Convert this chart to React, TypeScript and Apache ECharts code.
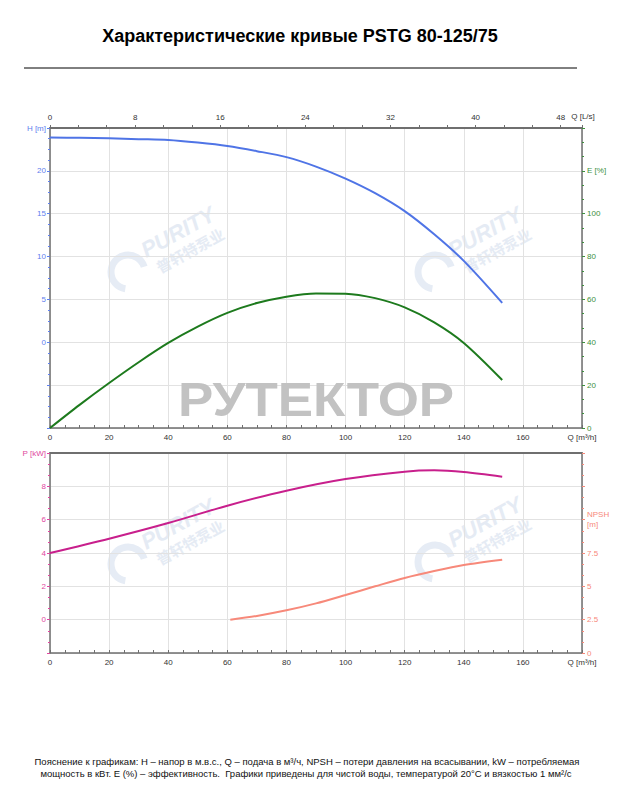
import React, { useEffect, useRef } from 'react';
import * as echarts from 'echarts';

// ---- Data ----
const qHead = [0, 10, 20, 30, 40, 50, 60, 70, 80, 90, 100, 110, 120, 130, 140, 153];
const head = [23.9, 23.85, 23.8, 23.7, 23.6, 23.3, 22.9, 22.3, 21.6, 20.5, 19.1, 17.4, 15.3, 12.6, 9.5, 4.6];

const qEff = [0, 10, 20, 30, 40, 50, 60, 70, 80, 90, 100, 110, 120, 130, 140, 153];
const eff = [0, 10.8, 21, 30.7, 39.7, 47.3, 53.7, 58.3, 61.3, 62.8, 62.7, 60.6, 56.3, 49.3, 39.7, 22.4];

const qPower = [0, 20, 40, 60, 80, 100, 120, 130, 140, 153];
const power = [4.0, 4.86, 5.8, 6.84, 7.74, 8.44, 8.88, 8.96, 8.86, 8.58];

const qNpsh = [61, 70, 80, 90, 100, 110, 120, 130, 140, 153];
const npsh = [2.5, 2.78, 3.2, 3.72, 4.35, 5.0, 5.63, 6.15, 6.6, 7.0];

const titleText = 'Характеристические кривые PSTG 80-125/75';
const footer1 = 'Пояснение к графикам: H – напор в м.в.с., Q – подача в м³/ч, NPSH – потери давления на всасывании, kW – потребляемая';
const footer2 = 'мощность в кВт. E (%) – эффективность.  Графики приведены для чистой воды, температурой 20°C и вязкостью 1 мм²/с';

const C_H = '#4f74e6';
const C_E = '#1d7a1d';
const C_E_LBL = '#3d8f3d';
const C_P = '#c81f8c';
const C_P_LBL = '#e0479e';
const C_N = '#f7897a';
const C_H_LBL = '#5f80ee';
const AXIS = '#6f6f6f';
const GRID = '#e2e2e2';
const FONT = "'Liberation Sans Narrow', 'Arial Narrow', 'Liberation Sans', sans-serif";

const pairs = (xs: number[], ys: number[]) => xs.map((x, i) => [x, ys[i]]);

function watermark(x: number, y: number) {
  return {
    type: 'group',
    x,
    y,
    z: 1,
    silent: true,
    children: [
      {
        type: 'arc',
        shape: { cx: 18, cy: 62, r: 17, startAngle: Math.PI * 0.55, endAngle: Math.PI * 1.9 },
        style: { stroke: '#e6ecf5', lineWidth: 7, fill: null },
      },
      {
        type: 'text',
        x: 68,
        y: 22,
        rotation: 0.5,
        style: {
          text: 'PURITY',
          font: "italic bold 22px 'Liberation Sans', sans-serif",
          fill: '#e5ebf4',
          align: 'center',
          verticalAlign: 'middle',
        },
      },
      {
        type: 'text',
        x: 80,
        y: 40,
        rotation: 0.5,
        style: {
          text: '普轩特泵业',
          font: "bold 15px 'Noto Sans CJK SC', sans-serif",
          fill: '#e5ebf4',
          align: 'center',
          verticalAlign: 'middle',
        },
      },
    ],
  };
}

const qFmt = (v: number) => (v === 180 ? 'Q [m³/h]' : String(v));

export default function App() {
  const ref = useRef<HTMLDivElement>(null);
  useEffect(() => {
    if (!ref.current) return;
    const chart = echarts.init(ref.current, undefined, { renderer: 'svg' });
    const labelBase = { fontSize: 8, fontFamily: FONT };
    const option: any = {
      animation: false,
      backgroundColor: '#ffffff',
      grid: [
        { left: 50, top: 128, width: 532, height: 300 },
        { left: 50, top: 453, width: 532, height: 200 },
      ],
      xAxis: [
        {
          gridIndex: 0, type: 'value', position: 'bottom', min: 0, max: 180, interval: 20,
          axisLine: { show: true, onZero: false, lineStyle: { color: AXIS, width: 1.5 } },
          axisTick: { show: true, inside: true, length: 3, lineStyle: { color: AXIS } },
          minorTick: { show: true, splitNumber: 4, length: 3, lineStyle: { color: AXIS } },
          axisLabel: { ...labelBase, color: '#333', margin: 5, formatter: qFmt, showMaxLabel: true, showMinLabel: true },
          splitLine: { show: true, lineStyle: { color: GRID } },
        },
        {
          gridIndex: 0, type: 'value', position: 'top', min: 0, max: 50, interval: 8,
          axisLine: { show: true, onZero: false, lineStyle: { color: AXIS, width: 2 } },
          axisTick: { show: true, length: 3, lineStyle: { color: AXIS } },
          minorTick: { show: true, splitNumber: 3, length: 3, lineStyle: { color: AXIS } },
          axisLabel: { ...labelBase, color: '#333', margin: 7, showMaxLabel: false },
          splitLine: { show: false },
        },
        {
          gridIndex: 1, type: 'value', position: 'bottom', min: 0, max: 180, interval: 20,
          axisLine: { show: true, onZero: false, lineStyle: { color: AXIS, width: 1.5 } },
          axisTick: { show: true, inside: true, length: 3, lineStyle: { color: AXIS } },
          minorTick: { show: true, splitNumber: 4, length: 3, lineStyle: { color: AXIS } },
          axisLabel: { ...labelBase, color: '#333', margin: 5, formatter: qFmt, showMaxLabel: true },
          splitLine: { show: true, lineStyle: { color: GRID } },
        },
        {
          gridIndex: 1, type: 'value', position: 'top', min: 0, max: 180, interval: 20,
          axisLine: { show: true, onZero: false, lineStyle: { color: AXIS, width: 2 } },
          axisTick: { show: false },
          axisLabel: { show: false },
          splitLine: { show: false },
        },
      ],
      yAxis: [
        {
          gridIndex: 0, type: 'value', position: 'left', min: -10, max: 25, interval: 5,
          axisLine: { show: true, onZero: false, lineStyle: { color: AXIS, width: 1.5 } },
          axisTick: { show: true, length: 3, lineStyle: { color: C_H_LBL } },
          minorTick: { show: true, splitNumber: 4, length: 2, lineStyle: { color: C_H_LBL } },
          axisLabel: {
            ...labelBase, color: C_H_LBL, margin: 4, showMaxLabel: true,
            formatter: (v: number) => (v === 25 ? 'H [m]' : v >= 0 ? String(v) : ''),
          },
          splitLine: { show: true, lineStyle: { color: GRID } },
        },
        {
          gridIndex: 0, type: 'value', position: 'right', min: 0, max: 140, interval: 20,
          axisLine: { show: true, onZero: false, lineStyle: { color: AXIS, width: 1.5 } },
          axisTick: { show: true, length: 3, lineStyle: { color: C_E_LBL } },
          minorTick: { show: true, splitNumber: 3, length: 2, lineStyle: { color: C_E_LBL } },
          axisLabel: {
            ...labelBase, color: C_E_LBL, margin: 5,
            formatter: (v: number) => (v === 120 ? 'E [%]' : v <= 100 ? String(v) : ''),
          },
          splitLine: { show: false },
        },
        {
          gridIndex: 1, type: 'value', position: 'left', min: -2, max: 10, interval: 2,
          axisLine: { show: true, onZero: false, lineStyle: { color: AXIS, width: 1.5 } },
          axisTick: { show: true, length: 3, lineStyle: { color: C_P_LBL } },
          minorTick: { show: true, splitNumber: 3, length: 2, lineStyle: { color: C_P_LBL } },
          axisLabel: {
            ...labelBase, color: C_P_LBL, margin: 4, showMaxLabel: true,
            formatter: (v: number) => (v === 10 ? 'P [kW]' : v >= 0 ? String(v) : ''),
          },
          splitLine: { show: true, lineStyle: { color: GRID } },
        },
        {
          gridIndex: 1, type: 'value', position: 'right', min: 0, max: 15, interval: 2.5,
          axisLine: { show: true, onZero: false, lineStyle: { color: AXIS, width: 1.5 } },
          axisTick: { show: true, length: 3, lineStyle: { color: C_N } },
          minorTick: { show: true, splitNumber: 3, length: 2, lineStyle: { color: C_N } },
          axisLabel: {
            ...labelBase, color: C_N, margin: 5, lineHeight: 10,
            formatter: (v: number) => (v === 10 ? 'NPSH\n[m]' : v <= 7.5 ? String(v) : ''),
          },
          splitLine: { show: false },
        },
      ],
      series: [
        {
          name: 'H', type: 'line', xAxisIndex: 0, yAxisIndex: 0, data: pairs(qHead, head),
          smooth: 0.3, showSymbol: false, lineStyle: { color: C_H, width: 2 }, z: 3,
        },
        {
          name: 'E', type: 'line', xAxisIndex: 0, yAxisIndex: 1, data: pairs(qEff, eff),
          smooth: 0.3, showSymbol: false, lineStyle: { color: C_E, width: 2 }, z: 3,
        },
        {
          name: 'P', type: 'line', xAxisIndex: 2, yAxisIndex: 2, data: pairs(qPower, power),
          smooth: 0.3, showSymbol: false, lineStyle: { color: C_P, width: 2 }, z: 3,
        },
        {
          name: 'NPSH', type: 'line', xAxisIndex: 2, yAxisIndex: 3, data: pairs(qNpsh, npsh),
          smooth: 0.3, showSymbol: false, lineStyle: { color: C_N, width: 2 }, z: 3,
        },
      ],
      graphic: [
        {
          type: 'text', x: 300, y: 36, z: 10,
          style: {
            text: titleText, font: "bold 18px 'Liberation Sans', sans-serif",
            fill: '#000', align: 'center', verticalAlign: 'middle',
          },
        },
        {
          type: 'line', z: 10,
          shape: { x1: 24, y1: 68, x2: 577, y2: 68 },
          style: { stroke: '#000', lineWidth: 1 },
        },
        {
          type: 'text', x: 583, y: 116, z: 10,
          style: {
            text: 'Q [L/s]', font: `8px ${FONT}`, fill: '#333', align: 'center', verticalAlign: 'middle',
          },
        },
        {
          type: 'text', x: 316, y: 399, z: 1, scaleX: 1.08,
          style: {
            text: 'РУТЕКТОР', font: "bold 49px 'Liberation Sans', sans-serif",
            fill: '#c2c2c2', align: 'center', verticalAlign: 'middle',
          },
        },
        watermark(110, 210),
        watermark(417, 210),
        watermark(110, 502),
        watermark(417, 500),
        {
          type: 'text', x: 307, y: 761, z: 10,
          style: {
            text: footer1, font: "9.5px 'Liberation Sans', sans-serif",
            fill: '#111', align: 'center', verticalAlign: 'middle',
          },
        },
        {
          type: 'text', x: 306, y: 773, z: 10,
          style: {
            text: footer2, font: "9.5px 'Liberation Sans', sans-serif",
            fill: '#111', align: 'center', verticalAlign: 'middle',
          },
        },
      ],
    };
    chart.setOption(option);
    return () => chart.dispose();
  }, []);
  return (
    <div
      ref={ref}
      style={{ position: 'absolute', left: 0, top: 0, width: 632, height: 800, background: '#fff' }}
    />
  );
}
